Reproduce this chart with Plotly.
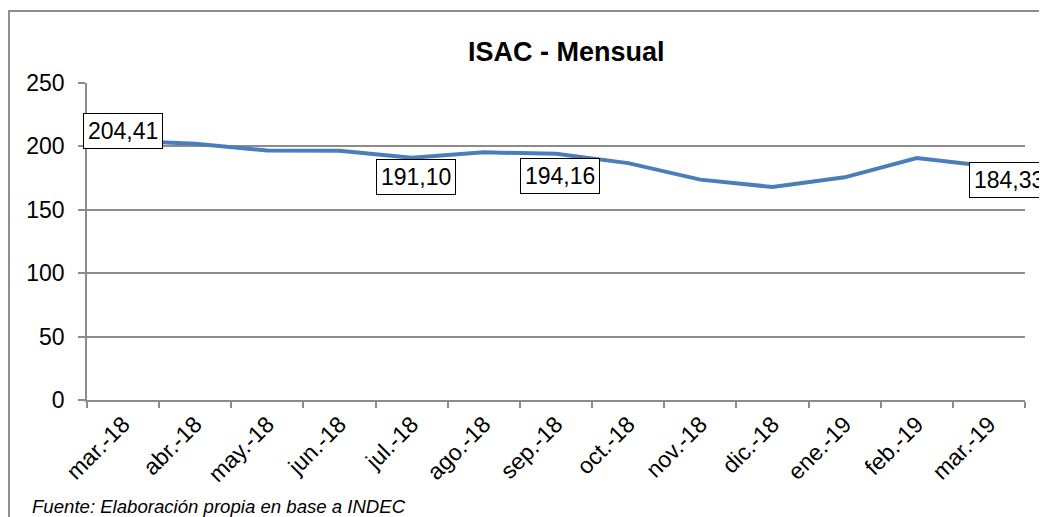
import plotly.graph_objects as go

# ISAC monthly index
meses = ["mar.-18", "abr.-18", "may.-18", "jun.-18", "jul.-18", "ago.-18", "sep.-18",
         "oct.-18", "nov.-18", "dic.-18", "ene.-19", "feb.-19", "mar.-19"]
isac = [204.41, 202.0, 196.8, 196.5, 191.10, 195.3, 194.16,
        186.8, 173.8, 168.0, 175.6, 190.8, 184.33]

# which points get a boxed label, and where the box sits relative to the point
etiquetas = [0, 4, 6, 12]
desplaz = {0: (0, 10), 4: (4, -19), 6: (4, -22), 12: (20, -14)}

FONT = "Liberation Sans, Arial, sans-serif"
GRIS = "#8c8c8c"

fig = go.Figure()
fig.add_trace(go.Scatter(
    x=meses, y=isac, mode="lines",
    line=dict(color="#4a7ebb", width=4),
    hoverinfo="x+y", showlegend=False,
))

for i in etiquetas:
    dx, dy = desplaz[i]
    fig.add_annotation(
        x=meses[i], y=isac[i], text=f"{isac[i]:.2f}".replace(".", ","),
        showarrow=False, xshift=dx, yshift=dy,
        font=dict(family=FONT, size=23, color="black"),
        bgcolor="white", bordercolor="black", borderwidth=1, borderpad=4,
    )

# title and source note
fig.add_annotation(x=0.511, y=1.098, xref="paper", yref="paper", xanchor="center", yanchor="middle",
                   text="<b>ISAC - Mensual</b>",
                   showarrow=False, font=dict(family=FONT, size=27, color="black"))
fig.add_annotation(x=-0.061, y=-0.3375, xref="paper", yref="paper", xanchor="left", yanchor="middle",
                   text="<i>Fuente: Elaboración propia en base a INDEC</i>",
                   showarrow=False, font=dict(family=FONT, size=18.6, color="black"))

# outer frame of the chart
fig.add_shape(type="rect", xref="paper", yref="paper", x0=-0.0832, x1=1.05, y0=-0.5, y1=1.227,
              line=dict(color=GRIS, width=2), layer="below")

# the page body adds an 8px offset, so margins are reduced by 8 on the left/top
fig.update_layout(
    width=1047, height=517,
    margin=dict(l=79, r=30, t=75, b=125),
    paper_bgcolor="white", plot_bgcolor="white",
    font=dict(family=FONT, color="black"),
)
fig.update_xaxes(
    type="category", range=[-0.5, 12.5], tickangle=-45, tickson="boundaries",
    ticks="outside", ticklen=6, tickcolor=GRIS, tickwidth=1.5,
    showline=True, linecolor=GRIS, linewidth=1.5, showgrid=False,
    tickfont=dict(family=FONT, size=23, color="black"),
    ticklabelstandoff=0, automargin=False,
)
fig.update_yaxes(
    range=[0, 250], dtick=50, ticks="outside", ticklen=7, tickcolor=GRIS, tickwidth=1.5,
    showline=True, linecolor=GRIS, linewidth=1.5,
    showgrid=True, gridcolor=GRIS, gridwidth=1.5, zeroline=False,
    tickfont=dict(family=FONT, size=23, color="black"),
    ticklabelstandoff=9, automargin=False,
)

fig.write_html("out.html")
